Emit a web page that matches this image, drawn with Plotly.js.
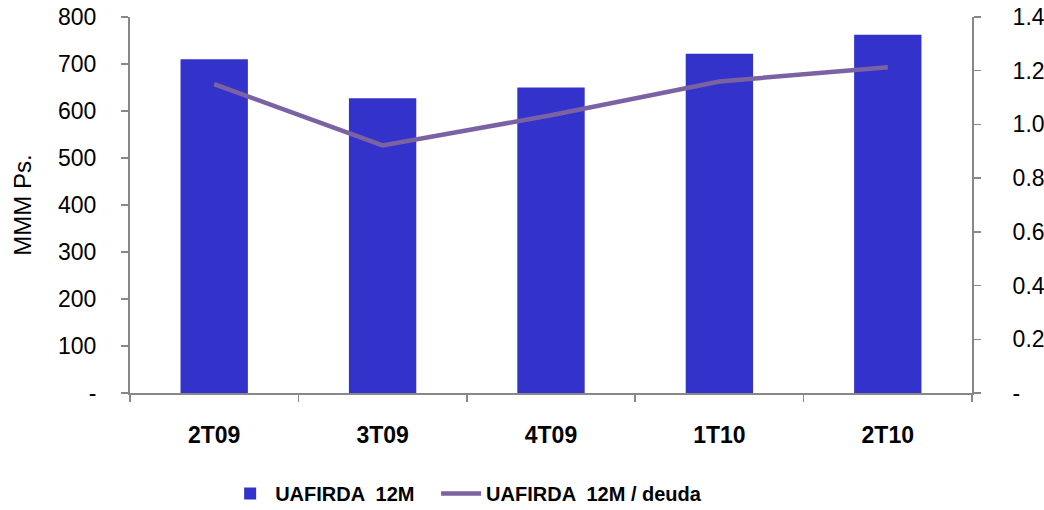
<!DOCTYPE html>
<html><head><meta charset="utf-8">
<script src="https://cdn.plot.ly/plotly-3.0.1.min.js"></script>
<style>body{margin:0;background:#fff}#c{width:1044px;height:510px}</style>
</head><body><div id="c"></div>
<script>
const categories = ["2T09","3T09","4T09","1T10","2T10"];
const uafirda = [710, 627, 650, 722, 762];
const ratio = [1.15, 0.922, 1.034, 1.16, 1.213];
const leftTickVals = [0,100,200,300,400,500,600,700,800];
const leftTickText = ["-","100","200","300","400","500","600","700","800"];
const rightTickVals = [0,0.2,0.4,0.6,0.8,1.0,1.2,1.4];
const rightTickText = ["-","0.2","0.4","0.6","0.8","1.0","1.2","1.4"];
const seriesNames = ["UAFIRDA  12M", "UAFIRDA  12M / deuda"];

const font = "Liberation Sans, Arial, sans-serif";
const data = [
  {type:"bar", x:categories, y:uafirda, name:seriesNames[0] + "\u00a0\u00a0\u00a0", marker:{color:"#3333CC"}, yaxis:"y"},
  {type:"scatter", mode:"lines", x:categories, y:ratio, name:seriesNames[1], line:{color:"#7B63A3", width:4.5}, yaxis:"y2"}
];
const layout = {
  width:1044, height:510,
  margin:{l:130, r:72, t:17, b:117, autoexpand:false},
  paper_bgcolor:"#fff", plot_bgcolor:"#fff",
  font:{family:font, size:24, color:"#000"},
  bargap:0.6,
  showlegend:true,
  legend:{orientation:"h", x:0.113, xanchor:"left", y:-0.267, yanchor:"middle",
    font:{family:font, size:20, color:"#000", weight:"bold"}, itemwidth:40, tracegroupgap:0},
  xaxis:{type:"category", showline:true, linecolor:"#888", linewidth:2, ticks:"outside", tickson:"boundaries",
    ticklen:7, tickcolor:"#888", tickwidth:1.5, showgrid:false, zeroline:false,
    tickfont:{family:font, size:23, weight:"bold"}, ticklabelstandoff:20},
  yaxis:{range:[0,800], tickvals:leftTickVals, ticktext:leftTickText, showline:true, linecolor:"#888", linewidth:2,
    ticks:"outside", ticklen:7, tickcolor:"#888", tickwidth:1.5, showgrid:false, zeroline:false,
    ticklabelstandoff:20, tickfont:{family:font, size:23},
    title:{text:"MMM Ps.", font:{family:font, size:24}, standoff:20}},
  yaxis2:{range:[0,1.4], overlaying:"y", side:"right", tickvals:rightTickVals, ticktext:rightTickText,
    showline:true, linecolor:"#888", linewidth:2, ticks:"outside", ticklen:7, tickcolor:"#888", tickwidth:1.5,
    showgrid:false, zeroline:false, ticklabelstandoff:27, tickfont:{family:font, size:23}}
};
Plotly.newPlot("c", data, layout, {displayModeBar:false, staticPlot:true});
</script></body></html>
